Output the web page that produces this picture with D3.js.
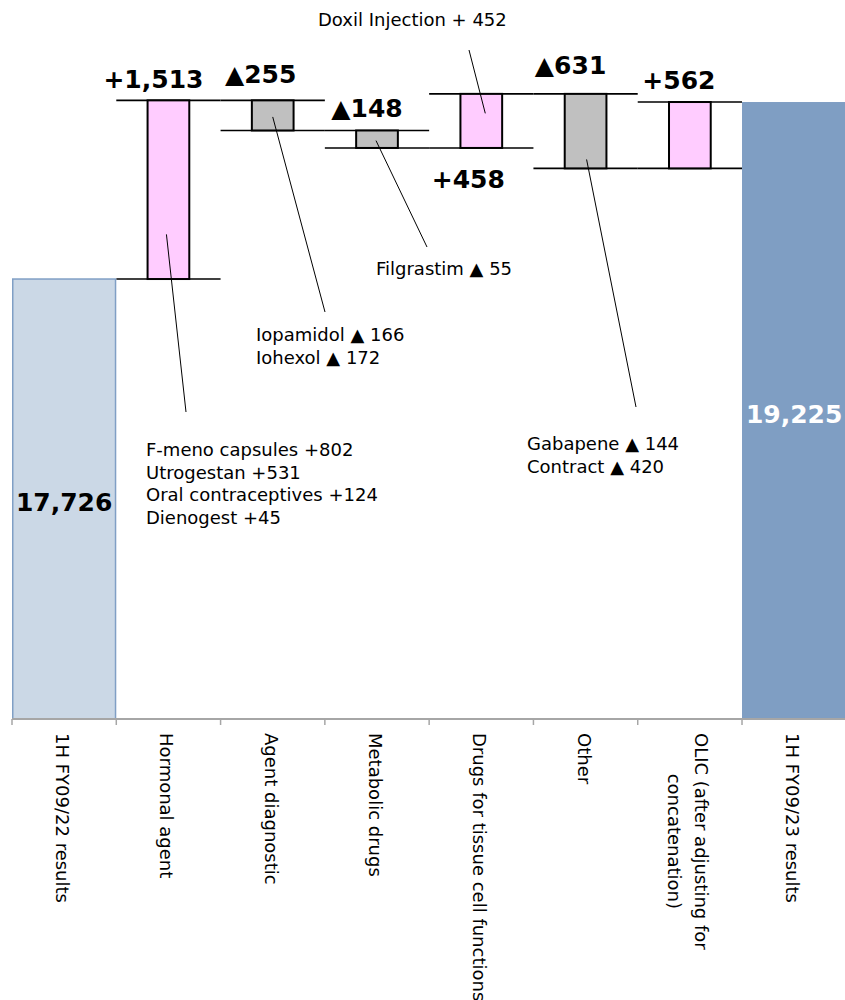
<!DOCTYPE html>
<html>
<head>
<meta charset="utf-8">
<script src="https://cdn.jsdelivr.net/npm/d3@7.9.0/dist/d3.min.js"></script>
<style>
  body { margin: 0; background: #fff; }
  svg text { font-family: "DejaVu Sans", Verdana, sans-serif; }
</style>
</head>
<body>
<svg id="chart" width="845" height="1000"></svg>
<script>
// data
const categories = [
  "1H FY09/22 results", "Hormonal agent", "Agent diagnostic", "Metabolic drugs",
  "Drugs for tissue cell functions", "Other", "OLIC (after adjusting for concatenation)", "1H FY09/23 results"
];
const categoryLines = [
  ["1H FY09/22 results"], ["Hormonal agent"], ["Agent diagnostic"], ["Metabolic drugs"],
  ["Drugs for tissue cell functions"], ["Other"], ["OLIC (after adjusting for", "concatenation)"], ["1H FY09/23 results"]
];
const values = [17726, 1513, -255, -148, 458, -631, 562, 19225];
const kinds = ["total", "delta", "delta", "delta", "delta", "delta", "delta", "total"];
const valueLabels = ["17,726", "+1,513", "▲255", "▲148", "+458", "▲631", "+562", "19,225"];

const notes = [
  { cat: "Hormonal agent", lines: ["F-meno capsules +802", "Utrogestan +531", "Oral contraceptives +124", "Dienogest +45"] },
  { cat: "Agent diagnostic", lines: ["Iopamidol ▲ 166", "Iohexol ▲ 172"] },
  { cat: "Metabolic drugs", lines: ["Filgrastim ▲ 55"] },
  { cat: "Drugs for tissue cell functions", lines: ["Doxil Injection + 452"] },
  { cat: "Other", lines: ["Gabapene ▲ 144", "Contract ▲ 420"] }
];

// layout (pixels) for the hand-placed labels and callouts
const labelOffset = {
  "Hormonal agent": { dx: -15, dy: -12, side: "top" },
  "Agent diagnostic": { dx: -12, dy: -17, side: "top" },
  "Metabolic drugs": { dx: -10, dy: -13, side: "top" },
  "Drugs for tissue cell functions": { dx: -13, dy: 40, side: "bottom" },
  "Other": { dx: -15, dy: -20, side: "top" },
  "OLIC (after adjusting for concatenation)": { dx: -11, dy: -13, side: "top" }
};
const noteLayout = {
  "Hormonal agent": { x: 146, y: 456, lead: [186, 412], frac: 0.75, dx: -2 },
  "Agent diagnostic": { x: 256, y: 341, lead: [325, 312], frac: 0.55, dx: 0 },
  "Metabolic drugs": { x: 376, y: 275, lead: [427, 247], frac: 0.58, dx: -1 },
  "Drugs for tissue cell functions": { x: 318, y: 26, lead: [469, 50], frac: 0.36, dx: 4 },
  "Other": { x: 527, y: 450, lead: [636, 407], frac: 0.88, dx: 1 }
};

const svg = d3.select("#chart");
const baseY = 719;

const x = d3.scaleBand().domain(categories).range([12, 846.3]).padding(0);
const y = d3.scaleLinear().domain([14000, 20089]).range([baseY, 0]);

// running totals
let run = 0;
const steps = categories.map((c, i) => {
  let start, end;
  if (kinds[i] === "total") { start = y.domain()[0]; end = values[i]; run = values[i]; }
  else { start = run; end = run + values[i]; run = end; }
  return { cat: c, kind: kinds[i], value: values[i], label: valueLabels[i], start, end,
           lo: Math.min(start, end), hi: Math.max(start, end) };
});

// connector lines
const deltas = steps.filter(d => d.kind === "delta");
deltas.forEach(d => {
  [d.start, d.end].forEach(v => {
    svg.append("line")
      .attr("x1", x(d.cat)).attr("x2", x(d.cat) + x.bandwidth())
      .attr("y1", y(v)).attr("y2", y(v))
      .attr("stroke", "#000").attr("stroke-width", 1.6);
  });
});

// total bars
steps.filter(d => d.kind === "total").forEach((d, i) => {
  svg.append("rect")
    .attr("x", x(d.cat) + (i === 0 ? 0.75 : 0))
    .attr("y", y(d.hi))
    .attr("width", x.bandwidth() - (i === 0 ? 1.5 : 0))
    .attr("height", y(d.lo) - y(d.hi))
    .attr("fill", i === 0 ? "#cbd8e6" : "#7f9ec3")
    .attr("stroke", i === 0 ? "#809fc5" : "none")
    .attr("stroke-width", 1.5);
  svg.append("text")
    .attr("x", x(d.cat) + x.bandwidth() / 2)
    .attr("y", (y(d.hi) + y(d.lo)) / 2 + 12)
    .attr("text-anchor", "middle")
    .attr("font-size", 25).attr("font-weight", "bold")
    .attr("fill", i === 0 ? "#000" : "#fff")
    .text(d.label);
});

// delta bars
const bw = x.bandwidth() * 0.4;
deltas.forEach(d => {
  svg.append("rect")
    .attr("x", x(d.cat) + (x.bandwidth() - bw) / 2)
    .attr("y", y(d.hi))
    .attr("width", bw)
    .attr("height", y(d.lo) - y(d.hi))
    .attr("fill", d.value >= 0 ? "#ffccff" : "#c0c0c0")
    .attr("stroke", "#000").attr("stroke-width", 2);

  const o = labelOffset[d.cat];
  svg.append("text")
    .attr("x", x(d.cat) + x.bandwidth() / 2 + o.dx)
    .attr("y", (o.side === "top" ? y(d.hi) : y(d.lo)) + o.dy)
    .attr("text-anchor", "middle")
    .attr("font-size", 25).attr("font-weight", "bold")
    .attr("fill", "#000")
    .text(d.label);
});

// callouts
notes.forEach(n => {
  const d = steps.find(s => s.cat === n.cat);
  const L = noteLayout[n.cat];
  const px = x(d.cat) + x.bandwidth() / 2 + L.dx;
  const py = y(d.hi) + (y(d.lo) - y(d.hi)) * L.frac;
  svg.append("line")
    .attr("x1", px).attr("y1", py)
    .attr("x2", L.lead[0]).attr("y2", L.lead[1])
    .attr("stroke", "#000").attr("stroke-width", 1);
  const t = svg.append("text").attr("font-size", 18).attr("fill", "#000");
  n.lines.forEach((ln, i) => {
    t.append("tspan").attr("x", L.x).attr("y", L.y + i * 22.5).text(ln);
  });
});

// axis
svg.append("line")
  .attr("x1", 12).attr("x2", 845)
  .attr("y1", baseY).attr("y2", baseY)
  .attr("stroke", "#a6a6a6").attr("stroke-width", 2);
categories.forEach(c => {
  svg.append("line")
    .attr("x1", x(c)).attr("x2", x(c))
    .attr("y1", baseY).attr("y2", baseY + 6)
    .attr("stroke", "#a6a6a6").attr("stroke-width", 1.5);
});

// category labels, rotated
categories.forEach((c, i) => {
  const lines = categoryLines[i];
  const g = svg.append("g")
    .attr("transform", `translate(${x(c) + x.bandwidth() / 2},733) rotate(90)`);
  const n = lines.length;
  const texts = lines.map((ln, j) => g.append("text")
    .attr("x", 0)
    .attr("y", 8 + (j - (n - 1) / 2) * 27)
    .attr("font-size", 18).attr("fill", "#000")
    .text(ln));
  if (n > 1) {
    const w = texts[0].node().getComputedTextLength();
    texts.forEach(t => t.attr("x", w / 2).attr("text-anchor", "middle"));
  }
});
</script>
</body>
</html>
